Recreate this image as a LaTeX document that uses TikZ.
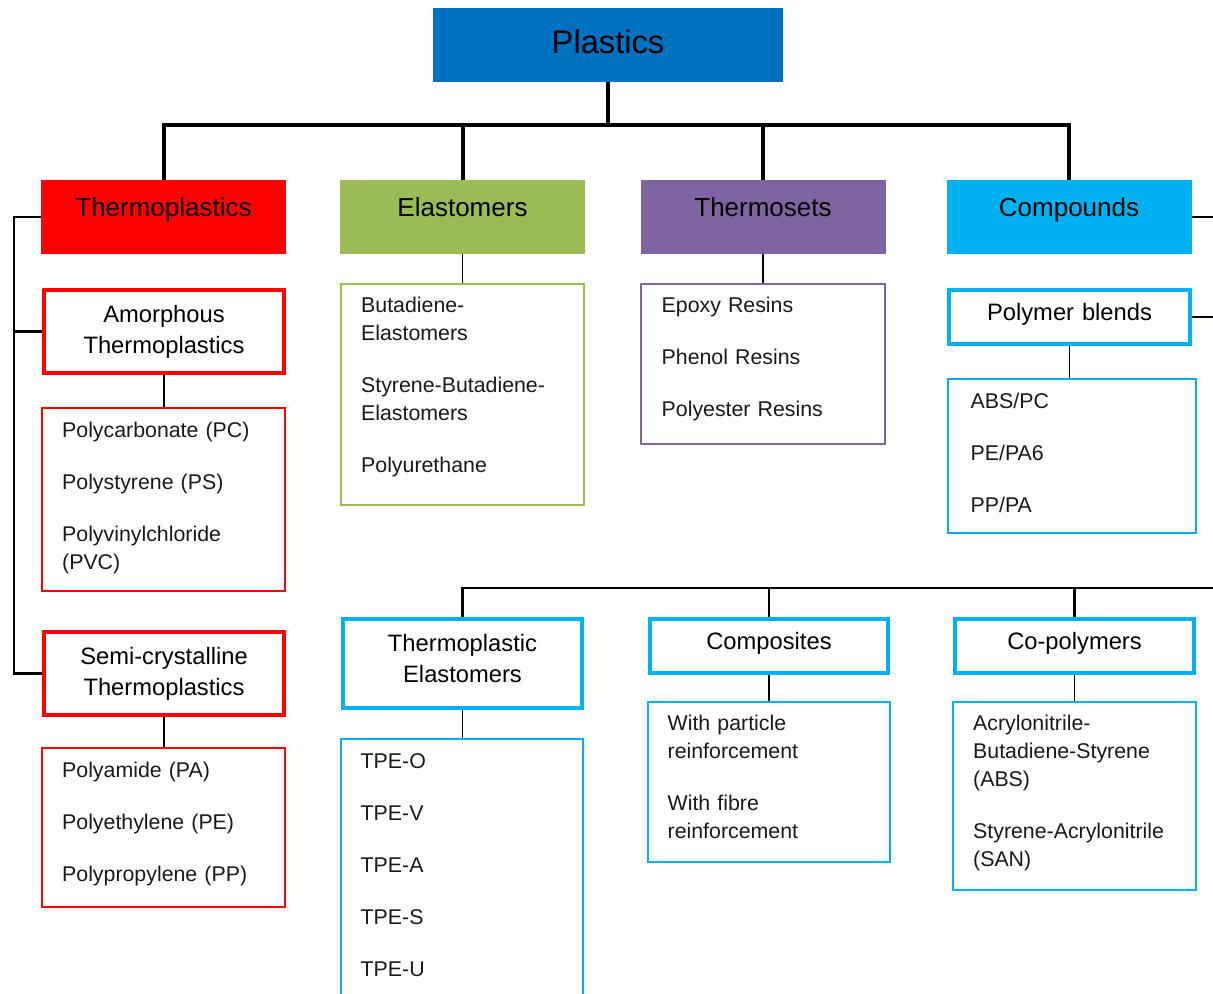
\documentclass[tikz,border=0pt]{standalone}
\usepackage{fontspec}
\setmainfont{Liberation Sans}
\definecolor{plblue}{HTML}{0070C0}
\definecolor{thred}{HTML}{FF0000}
\definecolor{elgreen}{HTML}{9BBB59}
\definecolor{tspurple}{HTML}{8064A2}
\definecolor{cpcyan}{HTML}{00B0F0}
\tikzset{
  head/.style={rectangle, inner sep=0pt, minimum width=183.75pt, minimum height=55.5pt,
    font=\fontsize{19.5}{23.5}\selectfont, text height=14pt, text depth=15pt},
  group/.style={draw, line width=3pt, fill=white, inner sep=0pt, text width=150pt, align=center,
    font=\fontsize{17.8}{23.25}\selectfont},
  oneline/.style={text height=12.75pt, text depth=7pt},
  list/.style={draw, line width=1.1pt, inner sep=0pt, text width=152pt, align=left,
    text=black!90, font=\fontsize{16}{21}\selectfont},
  lift/.style={execute at end node={\par\vskip#1\hrule height 0pt}},
  trunk/.style={line width=3pt},
  branch/.style={line width=2.2pt},
  stem/.style={line width=0.8pt},
}
\begin{document}
\begin{tikzpicture}[x=0.75pt,y=-0.75pt]
    \useasboundingbox (0,0) rectangle (1213,994);
    \clip (0,0) rectangle (1213,994);

    \node[head, fill=plblue, minimum width=262.5pt, font=\fontsize{24.5}{29}\selectfont,
      text height=17.5pt, text depth=4.5pt] (plastics) at (608,45) {Plastics};
    \node[head, fill=thred] (thermo) at (163.5,217) {Thermoplastics};
    \node[head, fill=elgreen] (elast) at (462.5,217) {Elastomers};
    \node[head, fill=tspurple] (tset) at (763,217) {Thermosets};
    \node[head, fill=cpcyan] (compd) at (1069,217) {Compounds};

    \coordinate (bus) at (609,125);
    \coordinate (bus2) at (1240,588);
    \coordinate (rim) at (1240,0);
    \coordinate (spine) at (14,0);

    \draw[trunk] (plastics.south) -- (plastics.south |- bus);
    \draw[trunk] (thermo.north) |- (compd.north |- bus) -- (compd.north);
    \draw[trunk] (elast.north) -- (elast.north |- bus);
    \draw[trunk] (tset.north) -- (tset.north |- bus);

    % thermoplastics
    \node[group, draw=thred, minimum width=180pt, minimum height=62.25pt] (amorph) at (164,331.5) {Amorphous\\Thermoplastics};
    \node[list, lift=3pt, draw=thred, minimum width=182.25pt, minimum height=137.25pt] (amorphlist) at (163.5,499.5)
      {Polycarbonate (PC)\\[18pt]Polystyrene (PS)\\[18pt]Polyvinylchloride\\(PVC)};
    \node[group, draw=thred, minimum width=180pt, minimum height=62.25pt] (semi) at (164,673.5) {Semi-crystalline\\Thermoplastics};
    \node[list, lift=6pt, draw=thred, minimum width=182.25pt, minimum height=119.25pt] (semilist) at (163.5,827.5)
      {Polyamide (PA)\\[18pt]Polyethylene (PE)\\[18pt]Polypropylene (PP)};
    \draw[branch] (thermo.west) -- (thermo.west -| spine) |- (semi.west);
    \draw[branch] (amorph.west) -- (amorph.west -| spine);
    \draw[stem] (amorph.south) -- (amorph.south |- amorphlist.north);
    \draw[stem] (semi.south) -- (semi.south |- semilist.north);

    % elastomers
    \node[list, lift=12pt, draw=elgreen, minimum width=182.25pt, minimum height=165.75pt] (elastlist) at (462.5,394.5)
      {Butadiene-\\Elastomers\\[18pt]Styrene-Butadiene-\\Elastomers\\[18pt]Polyurethane};
    \draw[stem] (elast.south) -- (elast.south |- elastlist.north);

    % thermosets
    \node[list, lift=7.5pt, draw=tspurple, minimum width=183pt, minimum height=120pt] (tsetlist) at (763,364)
      {Epoxy Resins\\[18pt]Phenol Resins\\[18pt]Polyester Resins};
    \draw[stem] (tset.south) -- (tset.south |- tsetlist.north);

    % compounds
    \node[group, oneline, draw=cpcyan, minimum width=180.75pt, minimum height=40.5pt] (blends) at (1069.5,317) {Polymer blends};
    \node[list, lift=4.5pt, draw=cpcyan, minimum width=186pt, minimum height=115.5pt] (blendslist) at (1072,456)
      {ABS/PC\\[18pt]PE/PA6\\[18pt]PP/PA};
    \draw[branch] (compd.east) -- (compd.east -| rim);
    \draw[branch] (blends.east) -- (blends.east -| rim);
    \draw[stem] (blends.south) -- (blends.south |- blendslist.north);

    \node[group, lift=7.5pt, draw=cpcyan, minimum width=179.25pt, minimum height=66.75pt] (tpe) at (462.5,663.5) {Thermoplastic\\Elastomers};
    \node[group, oneline, draw=cpcyan, minimum width=178.5pt, minimum height=40.5pt] (composite) at (769,646) {Composites};
    \node[group, oneline, draw=cpcyan, minimum width=179.25pt, minimum height=40.5pt] (copoly) at (1074.5,646) {Co-polymers};
    \draw[branch] (tpe.north) |- (bus2);
    \draw[branch] (composite.north) -- (composite.north |- bus2);
    \draw[branch] (copoly.north) -- (copoly.north |- bus2);

    \node[list, lift=4.5pt, draw=cpcyan, minimum width=181.5pt, minimum height=193.5pt] (tpelist) at (462,868)
      {TPE-O\\[18pt]TPE-V\\[18pt]TPE-A\\[18pt]TPE-S\\[18pt]TPE-U};
    \node[list, lift=7.5pt, draw=cpcyan, minimum width=181.5pt, minimum height=120pt] (complist) at (769,782)
      {With particle\\reinforcement\\[18pt]With fibre\\reinforcement};
    \node[list, lift=4.5pt, draw=cpcyan, minimum width=182.25pt, minimum height=141pt] (copolylist) at (1074.5,796)
      {Acrylonitrile-\\Butadiene-Styrene\\(ABS)\\[18pt]Styrene-Acrylonitrile\\(SAN)};
    \draw[stem] (tpe.south) -- (tpe.south |- tpelist.north);
    \draw[stem] (composite.south) -- (composite.south |- complist.north);
    \draw[stem] (copoly.south) -- (copoly.south |- copolylist.north);
\end{tikzpicture}
\end{document}
